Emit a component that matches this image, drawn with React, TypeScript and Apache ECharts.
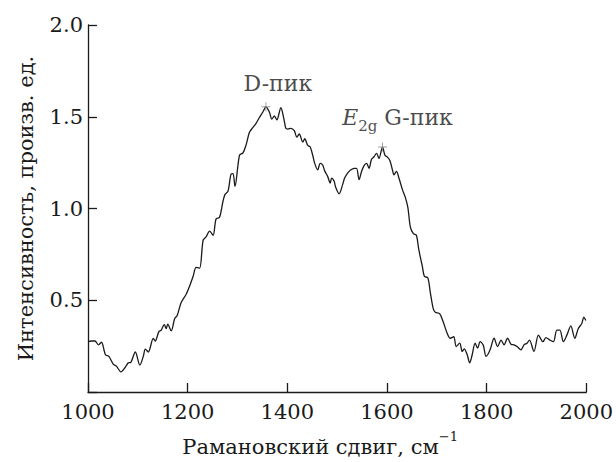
import React, { useEffect, useRef } from "react";
import * as echarts from "echarts";

const ramanShift: number[] = [
  1000, 1007, 1014, 1021, 1027, 1035, 1042, 1051, 1057, 1066, 1074, 1081, 1086, 1095, 1104, 1111, 1115, 1121,
  1131, 1135, 1142, 1147, 1153, 1157, 1160, 1167, 1174, 1179, 1187, 1197, 1204, 1211, 1217, 1224, 1231, 1237,
  1244, 1251, 1257, 1264, 1271, 1275, 1281, 1287, 1291, 1295, 1304, 1311, 1317, 1324, 1331, 1337, 1344, 1351,
  1357, 1364, 1369, 1374, 1379, 1387, 1393, 1397, 1401, 1407, 1414, 1419, 1424, 1431, 1435, 1441, 1446, 1451,
  1455, 1461, 1466, 1471, 1475, 1481, 1486, 1489, 1494, 1497, 1504, 1511, 1515, 1521, 1527, 1534, 1539, 1544,
  1549, 1554, 1559, 1564, 1569, 1574, 1579, 1584, 1591, 1596, 1601, 1606, 1611, 1614, 1619, 1624, 1631, 1637,
  1642, 1647, 1653, 1659, 1664, 1671, 1675, 1682, 1687, 1693, 1697, 1706, 1713, 1721, 1727, 1734, 1739, 1746,
  1751, 1755, 1761, 1766, 1771, 1777, 1782, 1787, 1793, 1799, 1807, 1815, 1822, 1829, 1835, 1842, 1849, 1855,
  1861, 1869, 1875, 1881, 1886, 1895, 1904, 1913, 1919, 1927, 1934, 1941, 1947, 1954, 1961, 1969, 1977, 1984,
  1991, 1995, 1999,
];

const intensity: number[] = [
  0.274, 0.278, 0.278, 0.257, 0.271, 0.203, 0.194, 0.15, 0.141, 0.11, 0.132, 0.159, 0.162, 0.218, 0.146, 0.194,
  0.234, 0.218, 0.292, 0.278, 0.328, 0.337, 0.367, 0.346, 0.37, 0.333, 0.4, 0.417, 0.488, 0.533, 0.578, 0.631,
  0.679, 0.675, 0.827, 0.845, 0.877, 0.854, 0.943, 0.952, 1.041, 1.077, 1.095, 1.187, 1.19, 1.121, 1.29, 1.303,
  1.344, 1.415, 1.442, 1.463, 1.496, 1.526, 1.554, 1.526, 1.487, 1.504, 1.483, 1.549, 1.49, 1.437, 1.433, 1.437,
  1.424, 1.389, 1.406, 1.362, 1.38, 1.344, 1.335, 1.29, 1.246, 1.21, 1.246, 1.237, 1.205, 1.175, 1.139, 1.166,
  1.148, 1.116, 1.08, 1.13, 1.166, 1.193, 1.21, 1.219, 1.219, 1.157, 1.202, 1.234, 1.246, 1.219, 1.269, 1.282,
  1.3, 1.273, 1.335, 1.29, 1.28, 1.26, 1.21, 1.184, 1.202, 1.166, 1.103, 1.059, 1.005, 0.898, 0.863, 0.854,
  0.774, 0.684, 0.631, 0.622, 0.542, 0.453, 0.435, 0.426, 0.381, 0.319, 0.293, 0.301, 0.248, 0.266, 0.221, 0.235,
  0.203, 0.159, 0.203, 0.266, 0.239, 0.274, 0.257, 0.194, 0.23, 0.293, 0.248, 0.283, 0.257, 0.293, 0.26, 0.257,
  0.248, 0.23, 0.257, 0.266, 0.283, 0.221, 0.31, 0.274, 0.296, 0.283, 0.274, 0.337, 0.337, 0.274, 0.31, 0.36,
  0.293, 0.346, 0.373, 0.408, 0.39,
];

const peakShift: number[] = [1357, 1591];
const peakIntensity: number[] = [1.554, 1.335];
const peakLabels: string[] = ["D-пик", "{e|E}{sub|2g}{m| G-пик}"];

const xTicks = { min: 1000, max: 2000, interval: 200 };
const yTicks = { min: 0, max: 2, interval: 0.5 };

const SERIF = "DejaVu Serif";
const INK = "#1a1a1a";

export default function App() {
  const ref = useRef<HTMLDivElement>(null);
  useEffect(() => {
    if (!ref.current) return;
    const chart = echarts.init(ref.current, undefined, { renderer: "svg" });
    const axisLine = { show: true, lineStyle: { color: INK, width: 1.3 } };
    chart.setOption({
      animation: false,
      backgroundColor: "#fff",
      textStyle: { fontFamily: SERIF },
      grid: { left: 88, right: 28, top: 25, bottom: 64 },
      xAxis: {
        type: "value",
        min: xTicks.min,
        max: xTicks.max,
        interval: xTicks.interval,
        axisLine,
        axisTick: { show: true, inside: true, length: 9, lineStyle: { color: INK, width: 1.3 } },
        splitLine: { show: false },
        axisLabel: { color: INK, fontFamily: SERIF, fontSize: 21, margin: 9, formatter: (v: number) => String(v) },
        name: "{a|Рамановский сдвиг, см}{s|−1}",
        nameLocation: "middle",
        nameGap: 38,
        nameTextStyle: {
          padding: [0, 34, 0, 0],
          fontFamily: SERIF,
          rich: {
            a: { fontFamily: SERIF, fontSize: 21, color: INK, lineHeight: 27, verticalAlign: "bottom" },
            s: { fontFamily: SERIF, fontSize: 13, color: INK, lineHeight: 14, verticalAlign: "top" },
          },
        },
      },
      yAxis: {
        type: "value",
        min: yTicks.min,
        max: yTicks.max,
        interval: yTicks.interval,
        axisLine,
        axisTick: { show: true, inside: true, length: 9, lineStyle: { color: INK, width: 1.3 } },
        splitLine: { show: false },
        axisLabel: {
          color: INK,
          fontFamily: SERIF,
          fontSize: 21,
          margin: 5,
          formatter: (v: number) => (v === 0 ? "" : v.toFixed(1)),
        },
        name: "Интенсивность, произв. ед.",
        nameLocation: "middle",
        nameGap: 52,
        nameTextStyle: { fontFamily: SERIF, fontSize: 21, color: INK },
      },
      series: [
        {
          type: "line",
          data: ramanShift.map((x, i) => [x, intensity[i]]),
          showSymbol: false,
          smooth: 0.3,
          lineStyle: { color: INK, width: 1.3 },
          z: 2,
        },
        {
          type: "scatter",
          data: peakShift.map((x, i) => ({
            value: [x, peakIntensity[i]],
            label: {
              show: true,
              position: "top",
              formatter: peakLabels[i],
              offset: i === 0 ? [12, -3] : [15, -1],
            },
          })),
          symbol: "path://M4,0h1v4h4v1h-4v4h-1v-4h-4v-1h4z",
          symbolSize: 9,
          itemStyle: { color: "#888" },
          label: {
            color: INK,
            fontFamily: SERIF,
            fontSize: 22,
            rich: {
              e: { fontFamily: SERIF, fontSize: 22, fontStyle: "italic", color: INK, lineHeight: 30, verticalAlign: "top" },
              sub: { fontFamily: SERIF, fontSize: 15, color: INK, lineHeight: 16, padding: [12, 0, 0, 0], verticalAlign: "top" },
              m: { fontFamily: SERIF, fontSize: 22, color: INK, lineHeight: 30, verticalAlign: "top" },
            },
          },
          z: 3,
        },
      ],
    });
    return () => chart.dispose();
  }, []);
  return (
    <div
      ref={ref}
      style={{ position: "fixed", left: 0, top: 0, width: 616, height: 462, background: "#fff" }}
    />
  );
}
